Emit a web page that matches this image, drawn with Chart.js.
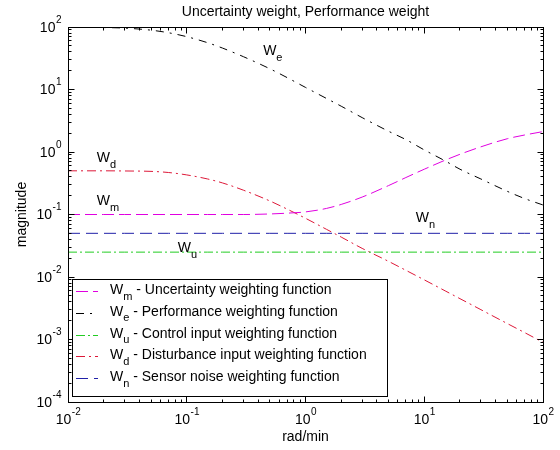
<!DOCTYPE html>
<html lang="en">
<head>
<meta charset="UTF-8">
<title>Uncertainty weight, Performance weight</title>
<script src="https://cdn.jsdelivr.net/npm/chart.js@4.4.0/dist/chart.umd.min.js"></script>
<style>
  html, body { margin: 0; padding: 0; background: #ffffff; }
</style>
</head>
<body>
<canvas id="weights" width="560" height="450"></canvas>
<script>
// frequency grid (rad/min) and magnitudes
var freq = [0.01, 0.02, 0.03, 0.05, 0.07, 0.1, 0.15, 0.2, 0.3, 0.5, 0.7, 1, 1.5, 2, 3, 5, 7, 10, 15, 20, 30, 50, 70, 100];
var wm = [0.1, 0.1, 0.1, 0.1, 0.1, 0.1, 0.1, 0.1, 0.1, 0.102, 0.105, 0.11, 0.125, 0.145, 0.19, 0.29, 0.39, 0.53, 0.74, 0.92, 1.21, 1.63, 1.87, 2.12];
var we = [99.5, 98, 96, 89, 81, 70, 56, 46, 33.5, 21.5, 15.5, 10.8, 7.2, 5.4, 3.55, 2.15, 1.58, 1.08, 0.72, 0.53, 0.37, 0.235, 0.18, 0.142];
var wu = [0.025, 0.025, 0.025, 0.025, 0.025, 0.025, 0.025, 0.025, 0.025, 0.025, 0.025, 0.025, 0.025, 0.025, 0.025, 0.025, 0.025, 0.025, 0.025, 0.025, 0.025, 0.025, 0.025, 0.025];
var wd = [0.5, 0.5, 0.497, 0.49, 0.47, 0.43, 0.37, 0.32, 0.245, 0.165, 0.122, 0.087, 0.058, 0.0435, 0.0287, 0.0178, 0.0128, 0.009, 0.006, 0.0045, 0.003, 0.0018, 0.00129, 0.0009];
var wn = [0.05, 0.05, 0.05, 0.05, 0.05, 0.05, 0.05, 0.05, 0.05, 0.05, 0.05, 0.05, 0.05, 0.05, 0.05, 0.05, 0.05, 0.05, 0.05, 0.05, 0.05, 0.05, 0.05, 0.05];

var subs = ['m', 'e', 'u', 'd', 'n'];
var descriptions = [
    ' - Uncertainty weighting function',
    ' - Performance weighting function',
    ' - Control input weighting function',
    ' - Disturbance input weighting function',
    ' - Sensor noise weighting function'
];
var xExp = [-2, -1, 0, 1, 2];
var yExp = [-4, -3, -2, -1, 0, 1, 2];

var FONT = '"Liberation Sans", Arial, Helvetica, sans-serif';

// where the W labels sit inside the axes (data units, left edge / baseline of W)
var curveLabels = [
    { sub: 'e', x: 0.44, y: 35 },
    { sub: 'd', x: 0.0175, y: 0.69 },
    { sub: 'm', x: 0.0175, y: 0.142 },
    { sub: 'u', x: 0.084, y: 0.0251 },
    { sub: 'n', x: 8.5, y: 0.076 }
];

function pts(values) {
    return freq.map(function (f, i) { return { x: f, y: values[i] }; });
}

function drawSub(ctx, x, y, main, sub, size) {
    ctx.font = size + 'px ' + FONT;
    ctx.fillText(main, x, y);
    var w = ctx.measureText(main).width;
    ctx.font = Math.round(size * 0.8) + 'px ' + FONT;
    ctx.fillText(sub, x + w, y + size * 0.4);
    var w2 = ctx.measureText(sub).width;
    return w + w2;
}

var matlabAxes = {
    id: 'matlabAxes',
    afterDatasetsDraw: function (chart) {
        var ctx = chart.ctx, a = chart.chartArea;
        var xs = chart.scales.x, ys = chart.scales.y;
        var L = Math.floor(a.left) + 0.5, R = Math.floor(a.right) + 0.5;
        var T = Math.floor(a.top) + 0.5, B = Math.floor(a.bottom) + 0.5;
        ctx.save();
        ctx.setLineDash([]);
        ctx.strokeStyle = '#000';
        ctx.lineWidth = 1;
        ctx.strokeRect(L, T, R - L, B - T);

        // ticks, major and minor, on all four sides
        ctx.beginPath();
        xExp.forEach(function (e, i) {
            for (var k = 1; k < 10; k++) {
                if (i === xExp.length - 1 && k > 1) break;
                var px = Math.floor(xs.getPixelForValue(k * Math.pow(10, e))) + 0.5;
                var len = k === 1 ? 6 : 3;
                ctx.moveTo(px, B); ctx.lineTo(px, B - len);
                ctx.moveTo(px, T); ctx.lineTo(px, T + len);
            }
        });
        yExp.forEach(function (e, i) {
            for (var k = 1; k < 10; k++) {
                if (i === yExp.length - 1 && k > 1) break;
                var py = Math.floor(ys.getPixelForValue(k * Math.pow(10, e))) + 0.5;
                var len = k === 1 ? 6 : 3;
                ctx.moveTo(L, py); ctx.lineTo(L + len, py);
                ctx.moveTo(R, py); ctx.lineTo(R - len, py);
            }
        });
        ctx.stroke();

        ctx.fillStyle = '#000';
        ctx.textBaseline = 'middle';
        ctx.textAlign = 'left';
        // x tick labels
        xExp.forEach(function (e) {
            var px = xs.getPixelForValue(Math.pow(10, e));
            ctx.font = '14px ' + FONT;
            var w1 = ctx.measureText('10').width;
            ctx.font = '10px ' + FONT;
            var w2 = ctx.measureText(String(e)).width;
            var x0 = px - (w1 + w2) / 2;
            ctx.font = '14px ' + FONT;
            ctx.fillText('10', x0, a.bottom + 18);
            ctx.font = '10px ' + FONT;
            ctx.fillText(String(e), x0 + w1 + 0.5, a.bottom + 10);
        });
        // y tick labels
        yExp.forEach(function (e) {
            var py = ys.getPixelForValue(Math.pow(10, e));
            ctx.font = '10px ' + FONT;
            var w2 = ctx.measureText(String(e)).width;
            ctx.font = '14px ' + FONT;
            var w1 = ctx.measureText('10').width;
            var x0 = a.left - 7 - w2 - w1;
            ctx.fillText('10', x0, py + 1);
            ctx.font = '10px ' + FONT;
            ctx.fillText(String(e), x0 + w1 + 0.5, py - 7);
        });

        // title and axis labels
        ctx.textAlign = 'center';
        ctx.font = '14px ' + FONT;
        ctx.fillText('Uncertainty weight, Performance weight', (a.left + a.right) / 2, 12);
        ctx.fillText('rad/min', (a.left + a.right) / 2, 437);
        ctx.save();
        ctx.translate(22, (a.top + a.bottom) / 2);
        ctx.rotate(-Math.PI / 2);
        ctx.fillText('magnitude', 0, 0);
        ctx.restore();

        // W labels next to the curves
        ctx.textAlign = 'left';
        ctx.textBaseline = 'alphabetic';
        curveLabels.forEach(function (c) {
            drawSub(ctx, xs.getPixelForValue(c.x), ys.getPixelForValue(c.y), 'W', c.sub, 14);
        });

        // legend box
        var lx = 72, ly = 279, lw = 315, lh = 117;
        ctx.fillStyle = '#ffffff';
        ctx.fillRect(lx, ly, lw, lh);
        ctx.strokeStyle = '#000';
        ctx.strokeRect(lx + 0.5, ly + 0.5, lw, lh);
        chart.data.datasets.forEach(function (ds, i) {
            var cy = 289 + i * 21.8;
            ctx.strokeStyle = ds.borderColor;
            ctx.setLineDash(ds.borderDash || []);
            ctx.beginPath();
            ctx.moveTo(76, Math.round(cy + 2) + 0.5);
            ctx.lineTo(98, Math.round(cy + 2) + 0.5);
            ctx.stroke();
            ctx.setLineDash([]);
            ctx.fillStyle = '#000';
            var w = drawSub(ctx, 110, cy + 5, 'W', subs[i], 14);
            ctx.font = '14px ' + FONT;
            ctx.fillText(descriptions[i], 110 + w, cy + 5);
        });
        ctx.restore();
    }
};

var ctx = document.getElementById('weights').getContext('2d');
var chart = new Chart(ctx, {
    type: 'line',
    data: {
        datasets: [
            { label: 'Wm', data: pts(wm), borderColor: '#e000e0', borderDash: [12, 5] },
            { label: 'We', data: pts(we), borderColor: '#000000', borderDash: [8, 6, 2, 6] },
            { label: 'Wu', data: pts(wu), borderColor: '#22cc22', borderDash: [9, 3, 2, 3] },
            { label: 'Wd', data: pts(wd), borderColor: '#dd1838', borderDash: [9, 4, 2, 4] },
            { label: 'Wn', data: pts(wn), borderColor: '#2020a8', borderDash: [12, 6] }
        ]
    },
    options: {
        responsive: false,
        animation: false,
        layout: { padding: { left: 68, top: 27, right: 17, bottom: 48 } },
        elements: {
            line: { borderWidth: 1, fill: false, cubicInterpolationMode: 'monotone' },
            point: { radius: 0, hoverRadius: 0 }
        },
        scales: {
            x: { type: 'logarithmic', min: 0.01, max: 100, display: false },
            y: { type: 'logarithmic', min: 0.0001, max: 100, display: false }
        },
        plugins: {
            legend: { display: false },
            tooltip: { enabled: false },
            title: { display: false }
        }
    },
    plugins: [matlabAxes]
});
</script>
</body>
</html>
